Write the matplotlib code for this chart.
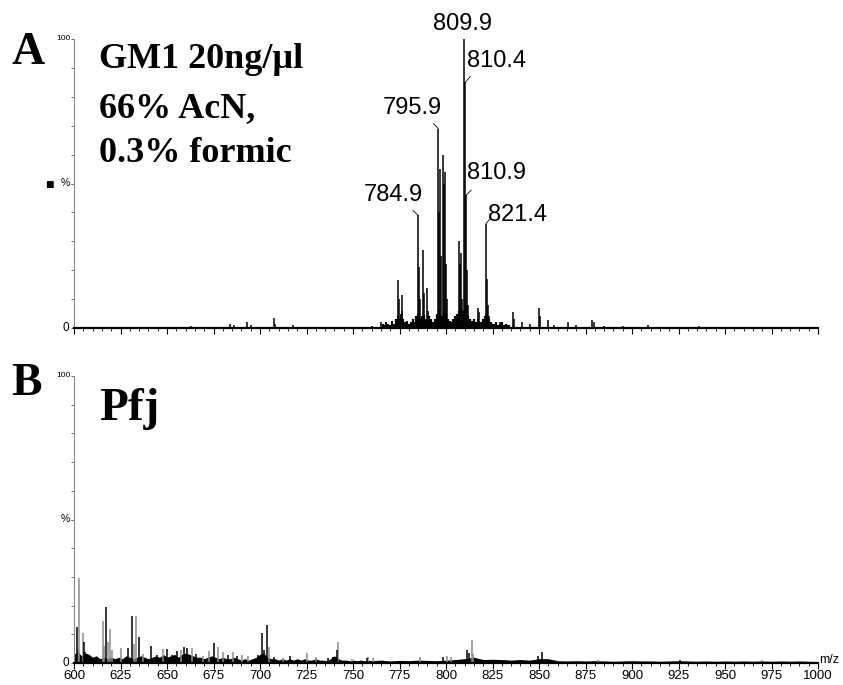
import numpy as np
import matplotlib
matplotlib.use("Agg")
import matplotlib.pyplot as plt
from matplotlib.ticker import MultipleLocator

SANS = ['Liberation Sans', 'DejaVu Sans']
SERIF = ['Liberation Serif', 'DejaVu Serif']

# ---- panel A : GM1 spectrum (m/z, relative intensity %) ----
a_peak_mz = [784.9, 795.9, 809.9, 810.4, 810.9, 821.4]
a_peak_int = [39, 69, 100, 85, 46, 36]
a_peak_labels = ["784.9", "795.9", "809.9", "810.4", "810.9", "821.4"]

a_other_mz = [765.0, 774.0, 774.5, 776.1, 776.6, 785.4, 785.9, 787.8, 788.3,
              790.0, 790.5, 796.4, 796.8, 797.3, 798.6, 799.1, 799.5, 800.0,
              800.5, 807.0, 807.5, 807.9, 808.4, 811.4, 811.9, 817.0, 817.8,
              821.9, 822.4, 822.9, 829.0, 835.9, 836.4, 841.0, 850.2, 850.7,
              855.0, 865.6, 878.5, 879.5, 908.6, 936.0,
              640.0, 663.0, 684.0, 686.0, 693.0, 695.0, 707.5, 708.0, 717.7,
              740.0, 760.0, 845.0, 858.0, 870.0, 885.0, 895.0, 920.0, 950.0,
              965.0, 980.0]
a_other_int = [2, 16.6, 10, 11.4, 6, 21, 10, 27, 12,
               14, 6, 40, 55, 25, 60, 50, 54, 22,
               10, 30, 22, 26, 10, 20, 8, 7, 5.5,
               17, 8, 4, 2, 5.5, 3, 2, 7, 4,
               2.8, 2, 2.9, 2, 1.2, 0.7,
               0.5, 0.8, 1.5, 1, 2, 1, 3.5, 1.5, 1,
               0.5, 0.6, 1.5, 1.2, 1, 0.8, 0.7, 0.5, 0.5,
               0.4, 0.5]

# dense low-level signal under the cluster, one value per m/z unit from 766
a_grass_int = [1.5, 1, 2, 1.5, 1, 2.5, 1.5, 3, 4, 3,
               5, 3, 2, 2.5, 1.5, 2, 3, 2, 4, 5,
               3, 4, 5, 3, 2.5, 4, 3, 2, 3, 5,
               6, 5, 4, 6, 5, 3, 2.5, 2, 3, 4,
               5, 6, 7, 6, 8, 6, 4, 3, 2.5, 3,
               2, 3, 2.5, 2, 3, 4, 5, 3, 2, 1.5,
               1.5, 2, 1, 1.5, 2, 1, 1.5, 1, 1]

# ---- panel B : Pfj spectrum ----
b_black_mz = [601.4, 605.4, 606.0, 607.0, 617.2, 629.2, 631.4, 635.1, 641.2,
              644.4, 649.8, 652.5, 655.2, 659.3, 660.9, 665.6, 675.3, 683.0,
              687.5, 699.1, 701.1, 702.2, 703.6, 707.5, 716.0, 736.7, 739.4,
              741.2, 757.4, 798.5, 811.5, 812.4, 816.5, 849.6, 851.8, 925.8]
b_black_int = [12.6, 7.4, 4, 3, 19.4, 5.2, 16.4, 9, 6,
               2.8, 5, 2.8, 4.3, 5.5, 5.2, 3.2, 6.8, 2.8,
               2.3, 2.8, 10.4, 4.7, 13.3, 2, 2.6, 1.7, 2,
               4.5, 1.6, 2, 4.7, 3.6, 1.5, 2.6, 4, 1]
b_gray_mz = [602.3, 602.9, 604.8, 615.4, 616.3, 618.5, 619.4, 620.2, 625.1,
             632.4, 633.3, 637.3, 647.7, 657.3, 663.3, 669.2, 672.8, 677.3,
             680.3, 685.3, 690.1, 693.7, 704.8, 712.5, 725.4, 730.1, 741.8,
             749.3, 758.2, 761.0, 786.0, 800.7, 802.5, 813.8, 814.7, 881.9,
             969.7]
b_gray_int = [5, 29.5, 10.4, 14.6, 6, 7.4, 11.8, 4.5, 5.2,
              6.6, 16.4, 3, 5, 4.7, 5.2, 2.3, 4.3, 5.5,
              3.7, 3.7, 2.8, 2.3, 5.7, 1.8, 3.4, 2.1, 7.4,
              1.4, 2, 1.6, 2.2, 2.6, 2, 7.9, 3, 1,
              1]

# noise floor: every 2 m/z from 600 to 760, then every 5 m/z from 765 to 1000
b_floor_lo = [3, 4, 2.5, 3.5, 3, 2, 2.5, 1.5, 2, 1.5,
              2, 1.5, 2, 1.5, 2.5, 2, 1.5, 2, 2.5, 2,
              1.5, 2, 2.5, 2, 3, 2, 2.5, 3, 2, 3,
              3.5, 3, 2.5, 2, 2, 1.5, 2, 2.5, 2, 1.5,
              2, 1.5, 1.5, 2, 1.5, 1, 1.5, 1, 1.5, 2,
              3, 3.5, 2, 1.5, 1.5, 1, 1.5, 1, 1.5, 1,
              1.5, 1, 1.5, 1, 1, 1.5, 1, 1, 0.8, 1.5,
              2.5, 1.5, 1, 1, 0.8, 1, 0.8, 1, 0.8, 1,
              0.8]
b_floor_hi = [1, 0.7, 0.9, 0.8, 1, 0.9, 0.8, 1, 1.2,
              1.5, 2, 1.2, 1.3, 1.2, 1, 1.2, 1, 1.5, 1.5,
              0.8, 0.7, 0.8, 0.7, 0.8, 0.7, 0.6, 0.7, 0.8, 0.7,
              0.7, 0.6, 0.7, 0.8, 0.7, 0.6, 0.7, 0.6, 0.7, 0.6,
              0.7, 0.6, 0.7, 0.6, 0.7, 0.6, 0.7, 0.6, 0.5]

x_ticks = list(range(600, 1001, 25))

# label placement relative to peak top, in pixels (text centre, leader end)
label_offsets = {"784.9": (-25, 20, -5, 5), "795.9": (-26, 21, -5, 5),
                 "809.9": (-2, 15, 0, 0), "810.4": (31, 21, 5, 6),
                 "810.9": (30, 22, 5, 5), "821.4": (32, 9, 5, 6)}
PX = 0.72  # points per pixel at 100 dpi


def style_axis(ax, show_labels):
    ax.set_xlim(600, 1000)
    ax.set_ylim(0, 100)
    for s in ("top", "right"):
        ax.spines[s].set_visible(False)
    ax.spines["left"].set_color("#8a8a8a")
    ax.spines["left"].set_linewidth(0.8)
    ax.spines["bottom"].set_linewidth(1.6)
    ax.xaxis.set_major_locator(MultipleLocator(25))
    ax.xaxis.set_minor_locator(MultipleLocator(5))
    ax.tick_params(axis="x", which="major", length=4, width=0.8, direction="out", pad=1)
    ax.tick_params(axis="x", which="minor", length=2, width=0.6, direction="out")
    ax.yaxis.set_major_locator(MultipleLocator(100))
    ax.yaxis.set_minor_locator(MultipleLocator(10))
    ax.tick_params(axis="y", which="both", length=2, width=0.6, color="#555555",
                   direction="out")
    ax.set_yticklabels([])
    ax.text(-0.004, 1.0, "100", transform=ax.transAxes, ha="right", va="center",
            fontsize=6, family=SANS)
    ax.text(-0.006, 0.0, "0", transform=ax.transAxes, ha="right", va="center",
            fontsize=8.5, family=SANS)
    ax.text(-0.006, 0.5, "%", transform=ax.transAxes, ha="right", va="center",
            fontsize=7.5, family=SANS)
    if show_labels:
        ax.set_xticks(x_ticks)
        ax.set_xticklabels([str(t) for t in x_ticks], family=SANS, fontsize=9.5)
        ax.text(1.002, 0.01, "m/z", transform=ax.transAxes, ha="left", va="center",
                fontsize=9, family=SANS)
    else:
        ax.set_xticklabels([])


fig = plt.figure(figsize=(8.43, 6.85), dpi=100)
axA = fig.add_axes([74 / 843, 1 - 328 / 685, 744 / 843, 289 / 685])
axB = fig.add_axes([74 / 843, 1 - 663 / 685, 744 / 843, 287 / 685])

# panel A
grass_x = np.arange(766, 766 + len(a_grass_int))
axA.vlines(grass_x, 0, a_grass_int, color="black", lw=1.6)
axA.vlines(a_other_mz, 0, a_other_int, color="black", lw=1.1)
axA.vlines(a_peak_mz, 0, a_peak_int, color="black", lw=1.1)
for mz, h, lab in zip(a_peak_mz, a_peak_int, a_peak_labels):
    dx, dy, lx, ly = label_offsets[lab]
    if lx or ly:
        axA.annotate("", xy=(mz, h), xytext=(lx * PX, ly * PX), textcoords="offset points",
                     arrowprops=dict(arrowstyle="-", lw=0.6, color="black",
                                     shrinkA=0, shrinkB=0))
    axA.annotate(lab, xy=(mz, h), xytext=(dx * PX, dy * PX), textcoords="offset points",
                 ha="center", va="center", fontsize=17, family=SANS,
                 annotation_clip=False)
style_axis(axA, False)
fig.text(49 / 843, 1 - 184 / 685, "\u25A0", ha="center", va="center", fontsize=6.5,
         family=['DejaVu Sans'])

# panel B
floor_x = np.concatenate([np.arange(600, 761, 2), np.arange(765, 1001, 5)])
floor_y = np.concatenate([b_floor_lo, b_floor_hi])
axB.fill_between(floor_x, 0, floor_y, color="black", lw=0)
axB.vlines(b_gray_mz, 0, b_gray_int, color="#8c8c8c", lw=1.1)
axB.vlines(b_black_mz, 0, b_black_int, color="black", lw=1.1)
style_axis(axB, True)

# panel letters and sample annotations
fig.text(11 / 843, 1 - 64 / 685, "A", ha="left", va="baseline", fontsize=33,
         fontweight="bold", family=SERIF)
fig.text(11 / 843, 1 - 395 / 685, "B", ha="left", va="baseline", fontsize=33,
         fontweight="bold", family=SERIF)
fig.text(99 / 843, 1 - 68 / 685, "GM1 20ng/\u00b5l", ha="left", va="baseline",
         fontsize=26, fontweight="bold", family=SERIF)
fig.text(99 / 843, 1 - 117 / 685, "66% AcN,", ha="left", va="baseline",
         fontsize=26, fontweight="bold", family=SERIF)
fig.text(99 / 843, 1 - 162 / 685, "0.3% formic", ha="left", va="baseline",
         fontsize=26, fontweight="bold", family=SERIF)
fig.text(99 / 843, 1 - 420 / 685, "Pfj", ha="left", va="baseline",
         fontsize=34, fontweight="bold", family=SERIF)

fig.savefig("out.png", dpi=100)
